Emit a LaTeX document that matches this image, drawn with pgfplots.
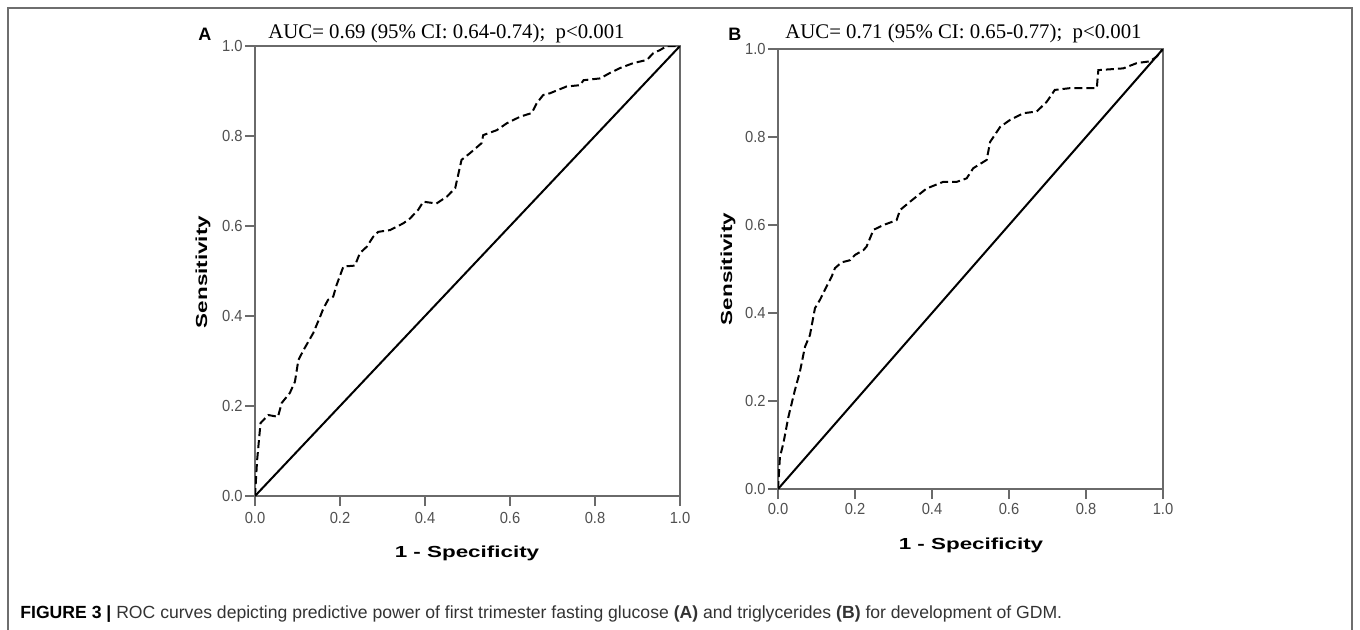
\documentclass[border=0pt]{standalone}
\usepackage{fontspec}
\setmainfont{Liberation Serif}
\newfontfamily\sansf{Liberation Sans}
\newfontfamily\tickf[FakeStretch=0.92]{Liberation Sans}
\newfontfamily\labf[FakeStretch=1.4]{Liberation Sans}
\usepackage{pgfplots}
\usepackage{pgfplotstable}
\pgfplotsset{compat=1.18}

\definecolor{axgray}{HTML}{6A6A6A}
\definecolor{tkgray}{HTML}{505050}
\definecolor{framegray}{HTML}{6E6E6E}
\definecolor{captxt}{HTML}{333333}

% ROC curve, fasting glucose (panel A)
\pgfplotstableread{
fpr tpr
0 0
0.005 0.08
0.013 0.162
0.031 0.18
0.054 0.176
0.063 0.207
0.082 0.229
0.094 0.254
0.102 0.302
0.114 0.324
0.137 0.362
0.153 0.398
0.161 0.417
0.172 0.436
0.184 0.443
0.192 0.469
0.208 0.51
0.235 0.512
0.247 0.54
0.263 0.554
0.278 0.576
0.29 0.587
0.318 0.591
0.349 0.606
0.365 0.617
0.384 0.636
0.396 0.654
0.427 0.65
0.451 0.665
0.471 0.684
0.486 0.747
0.506 0.762
0.533 0.784
0.537 0.802
0.569 0.813
0.592 0.828
0.624 0.843
0.651 0.851
0.663 0.873
0.678 0.891
0.694 0.895
0.733 0.91
0.765 0.913
0.773 0.924
0.812 0.928
0.835 0.94
0.859 0.951
0.89 0.962
0.922 0.969
0.937 0.984
0.953 0.991
0.969 1.0
1 1
}\rocA

% ROC curve, triglycerides (panel B)
\pgfplotstableread{
fpr tpr
0 0
0.005 0.073
0.014 0.104
0.027 0.164
0.044 0.225
0.057 0.267
0.07 0.323
0.083 0.35
0.096 0.411
0.109 0.43
0.126 0.46
0.139 0.482
0.148 0.502
0.165 0.515
0.187 0.52
0.2 0.532
0.222 0.543
0.23 0.551
0.248 0.589
0.274 0.6
0.308 0.611
0.317 0.634
0.343 0.653
0.386 0.683
0.429 0.698
0.464 0.698
0.49 0.706
0.507 0.729
0.542 0.748
0.551 0.789
0.577 0.823
0.603 0.839
0.637 0.854
0.672 0.858
0.698 0.88
0.719 0.907
0.758 0.911
0.828 0.911
0.832 0.952
0.897 0.956
0.932 0.968
0.966 0.972
0.984 0.983
1 1
}\rocB

\pgfplotsset{rocax/.style={
  scale only axis,
  xmin=0, xmax=1, ymin=0, ymax=1,
  xtick={0,0.2,0.4,0.6,0.8,1},
  ytick={0,0.2,0.4,0.6,0.8,1},
  tick pos=left, tick align=outside,
  major tick length=5pt,
  tick style={axgray, line width=0.8pt},
  axis line style={axgray, line width=1.1pt},
  tick label style={font=\tickf\fontsize{8}{9}\selectfont, text=tkgray},
  /pgf/number format/.cd, fixed, fixed zerofill, precision=1, assume math mode=true,
}}

\begin{document}
\begin{tikzpicture}
\useasboundingbox (0,0) rectangle (680pt,314.5pt);
\draw[framegray, line width=0.8pt] (4pt,-2pt) -- (4pt,310.5pt) -- (676pt,310.5pt) -- (676pt,-2pt);

% panel A
\begin{axis}[rocax, at={(127.5pt,66.5pt)}, anchor=south west,
  width=212.5pt, height=225pt,
  yticklabel style={inner sep=1pt},
  xticklabel style={inner sep=1pt, yshift=-2pt}]
\addplot[black, line width=1pt] coordinates {(0,0) (1,1)};
\addplot[black, line width=1pt, dash pattern=on 4pt off 2pt] table[x=fpr, y=tpr] {\rocA};
\end{axis}

% panel B
\begin{axis}[rocax, at={(389pt,70pt)}, anchor=south west,
  width=192.5pt, height=220pt,
  yticklabel style={inner sep=1pt},
  xticklabel style={inner sep=1pt, yshift=-1pt}]
\addplot[black, line width=1pt] coordinates {(0,0) (1,1)};
\addplot[black, line width=1pt, dash pattern=on 4pt off 2pt] table[x=fpr, y=tpr] {\rocB};
\end{axis}

% titles and labels
\node[anchor=base west, font=\sansf\bfseries\fontsize{9}{10}\selectfont, inner sep=0] at (99pt,294.5pt) {A};
\node[anchor=base west, font=\sansf\bfseries\fontsize{9}{10}\selectfont, inner sep=0] at (364pt,294.5pt) {B};
\node[anchor=base west, font=\fontsize{10.4}{12}\selectfont, inner sep=0] at (134pt,295.5pt) {AUC= 0.69 (95\% CI: 0.64-0.74);\ \ p<0.001};
\node[anchor=base west, font=\fontsize{10.4}{12}\selectfont, inner sep=0] at (392.5pt,295.5pt) {AUC= 0.71 (95\% CI: 0.65-0.77);\ \ p<0.001};
\node[rotate=90, font=\labf\bfseries\fontsize{8}{9}\selectfont, inner sep=0] at (101.5pt,178.5pt) {Sensitivity};
\node[rotate=90, font=\labf\bfseries\fontsize{8}{9}\selectfont, inner sep=0] at (364pt,180pt) {Sensitivity};
\node[font=\labf\bfseries\fontsize{8}{9}\selectfont, inner sep=0] at (233.5pt,38pt) {1 - Specificity};
\node[font=\labf\bfseries\fontsize{8}{9}\selectfont, inner sep=0] at (485.5pt,42pt) {1 - Specificity};

% caption
\node[anchor=base west, inner sep=0, text=captxt, font=\sansf\fontsize{8.8}{10}\selectfont] at (10pt,5.5pt)
  {{\bfseries\color{black}FIGURE 3 |} ROC curves depicting predictive power of first trimester fasting glucose {\bfseries (A)} and triglycerides {\bfseries (B)} for development of GDM.};
\end{tikzpicture}
\end{document}
